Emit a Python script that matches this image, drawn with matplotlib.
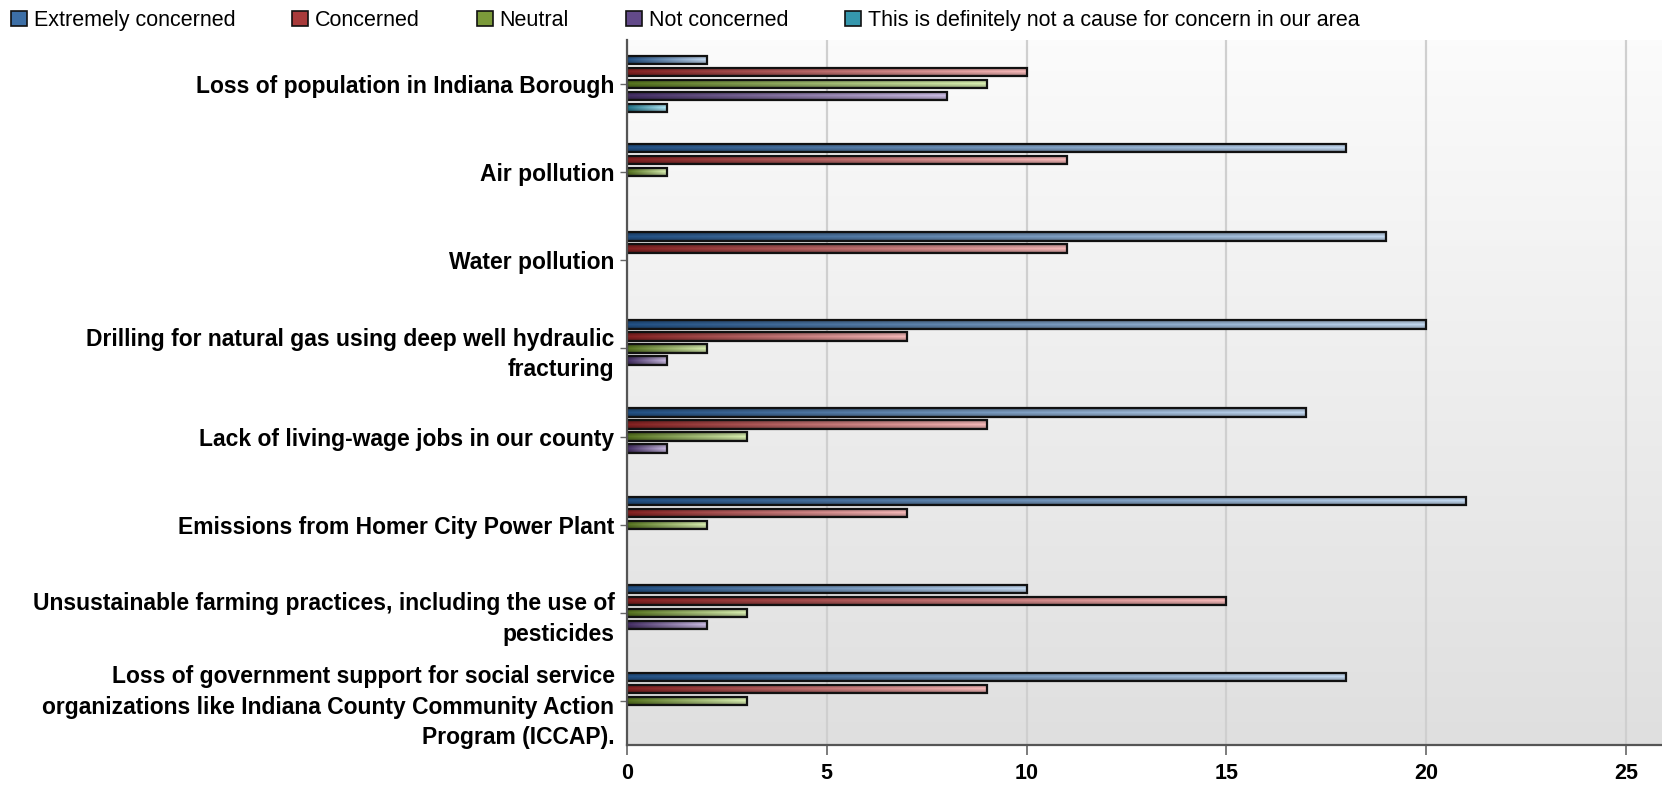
import numpy as np
import matplotlib
matplotlib.use("Agg")
import matplotlib.pyplot as plt
from matplotlib.patches import Patch
from matplotlib.colors import to_rgb

# survey answers
categories = [
    "Loss of population in Indiana Borough",
    "Air pollution",
    "Water pollution",
    "Drilling for natural gas using deep well hydraulic\nfracturing",
    "Lack of living-wage jobs in our county",
    "Emissions from Homer City Power Plant",
    "Unsustainable farming practices, including the use of\npesticides",
    "Loss of government support for social service\norganizations like Indiana County Community Action\nProgram (ICCAP).",
]
series_names = [
    "Extremely concerned",
    "Concerned",
    "Neutral",
    "Not concerned",
    "This is definitely not a cause for concern in our area",
]
extremely = [2, 18, 19, 20, 17, 21, 10, 18]
concerned = [10, 11, 11, 7, 9, 7, 15, 9]
neutral = [9, 1, 0, 2, 3, 2, 3, 3]
not_concerned = [8, 0, 0, 1, 1, 0, 2, 0]
no_concern = [1, 0, 0, 0, 0, 0, 0, 0]
x_ticks = [0, 5, 10, 15, 20, 25]

series = [extremely, concerned, neutral, not_concerned, no_concern]
dark = ["#1f4a7a", "#7a1e1e", "#4f6a1c", "#3e2a5c", "#1c6a7e"]
light = ["#b4c8de", "#e2aaaa", "#c8dca4", "#bcaed2", "#a6d8e6"]
mid = ["#3d6fa6", "#a83a3a", "#7b9a3a", "#634a8a", "#3597ad"]

LBL = ["Liberation Sans", "DejaVu Sans"]

fig = plt.figure(figsize=(16.62, 7.85), dpi=100)
ax = fig.add_axes([627 / 1662, 1 - 745 / 785, 1 - 627 / 1662, (745 - 40) / 785])

# background gradient, white on top to light grey at the bottom
bg = np.linspace(0.985, 0.875, 256)[:, None]
bg = np.dstack([bg, bg, bg])
ax.imshow(bg, extent=(0, 1, 0, 1), transform=ax.transAxes, aspect="auto",
          zorder=0, interpolation="bilinear")

slot = 0.136
bar_h = 0.095
y_pos = np.arange(len(categories))


def bar_image(c0, c1):
    a = np.array(to_rgb(c0))
    b = np.array(to_rgb(c1))
    t = np.linspace(0, 1, 200)[None, :, None]
    img = a + (b - a) * t
    # a bit of shading top/bottom to look rounded
    v = np.array([0.75, 0.95, 1.08, 0.95, 0.75])[:, None, None]
    return np.clip(np.repeat(img, 5, axis=0) * v, 0, 1)


for j, vals in enumerate(series):
    ys = y_pos + (j - 2) * slot
    img = bar_image(dark[j], light[j])
    for y, v in zip(ys, vals):
        if v > 0:
            ax.imshow(img, extent=(0, v, y + bar_h / 2, y - bar_h / 2),
                      aspect="auto", zorder=3, interpolation="bilinear")
    w = np.array(vals, dtype=float)
    ax.barh(ys[w > 0], w[w > 0], height=bar_h, facecolor="none",
            edgecolor="#111111", linewidth=1.6, zorder=4)

ax.set_xlim(0, 25.9)
ax.set_ylim(len(categories) - 0.5, -0.5)

ax.set_xticks(x_ticks)
ax.set_xticklabels([str(t) for t in x_ticks], fontsize=15.5, fontweight="bold",
                   family=LBL)
ax.set_yticks(y_pos)
ax.set_yticklabels(categories, fontsize=16.5, fontweight="bold", family=LBL,
                   linespacing=1.42)
ax.tick_params(axis="x", length=7, width=1.2, color="#666666", pad=6)
ax.tick_params(axis="y", length=5, width=1, color="#666666", pad=4)

ax.grid(axis="x", color="#cfcfcf", linewidth=1.6, zorder=1)
ax.set_axisbelow(True)
for s in ["top", "right"]:
    ax.spines[s].set_visible(False)
for s in ["left", "bottom"]:
    ax.spines[s].set_color("#555555")
    ax.spines[s].set_linewidth(1.6)
    ax.spines[s].set_zorder(5)

handles = [Patch(facecolor=mid[j], edgecolor="#111111", linewidth=1.2)
           for j in range(len(series_names))]
fig.legend(handles, series_names, loc="upper left", bbox_to_anchor=(-0.005, 1.012),
           ncol=5, frameon=False, handlelength=0.75, handleheight=0.75,
           handletextpad=0.3, columnspacing=2.65,
           prop={"family": LBL, "size": 15.5})

fig.savefig("out.png", dpi=100)
